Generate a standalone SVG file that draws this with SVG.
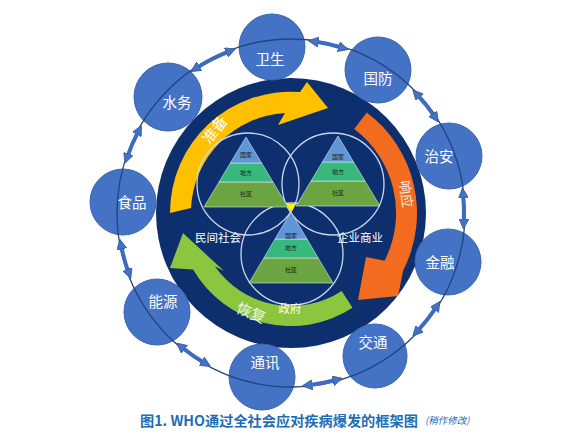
<svg xmlns="http://www.w3.org/2000/svg" width="581" height="435" viewBox="0 0 581 435">
<defs>
<style>
.cjk{font-family:"Noto Sans CJK SC","Noto Sans",sans-serif;}
.node circle{fill:#4472C4;stroke:#3A64B3;stroke-width:1;}
.node text{fill:#fff;font-size:14.5px;text-anchor:middle;}
.lbl{fill:#fff;font-size:11.5px;text-anchor:middle;}
.py{font-size:6px;fill:#1a1a1a;text-anchor:middle;}
.l1{fill:#5F96D6;stroke:#dde6f2;stroke-width:0.6;}
.l2{fill:#37B97D;stroke:#dde6f2;stroke-width:0.6;}
.l3{fill:#6AA541;stroke:#dde6f2;stroke-width:0.6;}
.venn{fill:none;stroke:#C9D6EE;stroke-width:1.3;}
.conn{fill:none;stroke:#3D6BBF;stroke-width:4;marker-start:url(#hd);marker-end:url(#hd);}
</style>
<marker id="hd" markerUnits="userSpaceOnUse" markerWidth="10" markerHeight="10" viewBox="0 0 9 9" refX="2" refY="4.5" orient="auto-start-reverse">
<path d="M0,0 L9,4.5 L0,9 Z" fill="#4472C4" stroke="#2F5597" stroke-width="0.7"/>
</marker>
</defs>
<rect width="581" height="435" fill="#fff"/>

<g id="core">
<circle cx="291" cy="213" r="135" fill="#0D2F6E"/>
<g id="arrow-prepare">
<path d="M170,213 A121 121 0 0 1 300,92 L307,82 L328,108 L278,125 L285,113 A100 100 0 0 0 191,208 Z" fill="#FFC000"/>
<text class="cjk" x="215" y="135" font-size="15" fill="#fff" text-anchor="middle" transform="rotate(-52 215 130)">准备</text>
</g>
<g id="arrow-respond">
<path d="M366.8,112.4 A126 126 0 0 1 403.3,270.2 L398,296 L358,300 L366,257 L384.6,260.7 A105 105 0 0 0 354.2,129.1 Z" fill="#F26B1F"/>
<text class="cjk" x="406" y="199" font-size="13.5" fill="#fde9dc" text-anchor="middle" transform="rotate(82 406 194)">响应</text>
</g>
<g id="arrow-recover">
<path d="M352.5,307.8 A113 113 0 0 1 193.1,269.5 L170,268 L183,233 L224,271 L214.8,266.3 A93 93 0 0 0 341.7,291 Z" fill="#8CC63F"/>
<text class="cjk" x="251" y="318" font-size="15" fill="#eef7e4" text-anchor="middle" transform="rotate(22 251 313)">恢复</text>
</g>
<circle class="venn" cx="248" cy="184" r="51"/>
<circle class="venn" cx="333" cy="184" r="51"/>
<circle class="venn" cx="292" cy="254" r="51"/>
<polygon points="286,204 296,204 291,212" fill="#FFF200"/>
</g>

<g id="pyramid-civil">
<polygon class="l3" points="219,182 273,182 288,207 204,207"/>
<polygon class="l2" points="230.4,163 261.6,163 273,182 219,182"/>
<polygon class="l1" points="246,137 261.6,163 230.4,163"/>
<text class="cjk py" x="246" y="156.5">国家</text>
<text class="cjk py" x="246" y="174.5">地方</text>
<text class="cjk py" x="246" y="195.5">社区</text>
<text class="cjk lbl" x="218" y="242">民间社会</text>
</g>
<g id="pyramid-business">
<polygon class="l3" points="311,181 365,181 380,206 296,206"/>
<polygon class="l2" points="322.4,162 353.6,162 365,181 311,181"/>
<polygon class="l1" points="338,136 353.6,162 322.4,162"/>
<text class="cjk py" x="338" y="158.5">国家</text>
<text class="cjk py" x="338" y="174">地方</text>
<text class="cjk py" x="338" y="195">社区</text>
<text class="cjk lbl" x="360" y="242">企业商业</text>
</g>
<g id="pyramid-gov">
<polygon class="l3" points="263.8,258 318.2,258 333,283 249,283"/>
<polygon class="l2" points="275,239 307,239 318.2,258 263.8,258"/>
<polygon class="l1" points="291,212 307,239 275,239"/>
<text class="cjk py" x="291" y="237.5">国家</text>
<text class="cjk py" x="291" y="250">地方</text>
<text class="cjk py" x="291" y="271.5">社区</text>
<text class="cjk lbl" x="290" y="313">政府</text>
</g>

<g id="n-health" class="node"><circle cx="272" cy="47" r="33"/><text class="cjk" x="270" y="65">卫生</text></g>
<g id="n-defense" class="node"><circle cx="378" cy="70" r="33"/><text class="cjk" x="378" y="84">国防</text></g>
<g id="n-security" class="node"><circle cx="449" cy="156" r="33"/><text class="cjk" x="439" y="162">治安</text></g>
<g id="n-finance" class="node"><circle cx="448" cy="262" r="33"/><text class="cjk" x="440" y="268">金融</text></g>
<g id="n-transport" class="node"><circle cx="375" cy="356" r="32"/><text class="cjk" x="373" y="348">交通</text></g>
<g id="n-telecom" class="node"><circle cx="262" cy="377" r="33"/><text class="cjk" x="265" y="368">通讯</text></g>
<g id="n-energy" class="node"><circle cx="157" cy="312" r="33"/><text class="cjk" x="163" y="307">能源</text></g>
<g id="n-food" class="node"><circle cx="123" cy="202" r="33"/><text class="cjk" x="132" y="208">食品</text></g>
<g id="n-water" class="node"><circle cx="168" cy="97" r="34"/><text class="cjk" x="177" y="108">水务</text></g>

<g id="connectors">
<circle cx="291" cy="213" r="174" fill="none" stroke="#22447E" stroke-width="1.3"/>
<path class="conn" d="M197.5,67.4 A173 173 0 0 1 228.1,51.8"/>
<path class="conn" d="M316,41.8 A173 173 0 0 1 340.7,47.3"/>
<path class="conn" d="M418.1,95.7 A173 173 0 0 1 433.9,115.5"/>
<path class="conn" d="M463.2,195.8 A173 173 0 0 1 463.8,221.1"/>
<path class="conn" d="M435.6,308 A173 173 0 0 1 418.1,330.3"/>
<path class="conn" d="M334.9,380.3 A173 173 0 0 1 310,385"/>
<path class="conn" d="M203.7,362.4 A173 173 0 0 1 182.8,348"/>
<path class="conn" d="M128.1,271.3 A173 173 0 0 1 121.4,246.9"/>
<path class="conn" d="M127.7,155.8 A173 173 0 0 1 137.8,132.6"/>
</g>

<g id="caption">
<text class="cjk" x="140" y="426" font-size="14.2" font-weight="bold" fill="#1F6DB5">图1. WHO通过全社会应对疾病爆发的框架图</text>
<text class="cjk" x="425" y="424" font-size="9.5" font-style="italic" fill="#1F6DB5">(稍作修改)</text>
</g>
</svg>
